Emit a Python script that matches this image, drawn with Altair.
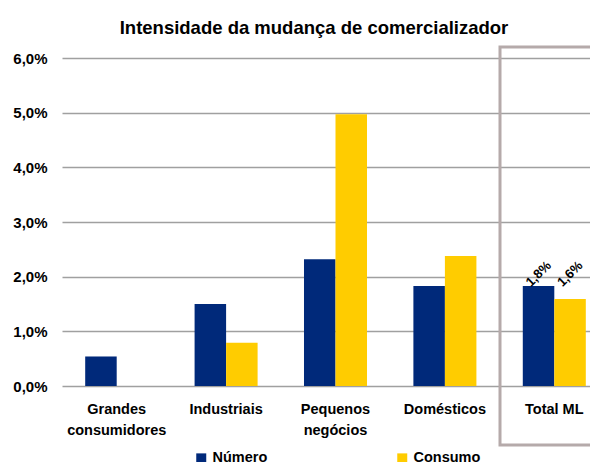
import altair as alt
import pandas as pd

categories = ["Grandes\nconsumidores", "Industriais", "Pequenos\nnegócios", "Domésticos", "Total ML"]
series = ["Número", "Consumo"]
numero = [0.0054, 0.0150, 0.0232, 0.0183, 0.0183]
consumo = [0.0, 0.0079, 0.0497, 0.0238, 0.0159]
labelled_category = "Total ML"
title_text = "Intensidade da mudança de comercializador"
y_ticks = [0, 0.01, 0.02, 0.03, 0.04, 0.05, 0.06]

rows = []
for c, n, k in zip(categories, numero, consumo):
    rows.append({"cat": c, "serie": series[0], "valor": n})
    rows.append({"cat": c, "serie": series[1], "valor": k})
df = pd.DataFrame(rows)

FONT = "Liberation Sans"
NAVY = "#00297a"
YELLOW = "#ffcc00"
FRAME = "#b5aaaa"

x_enc = alt.X(
    "cat:N", sort=categories,
    scale=alt.Scale(range=[0, 547], paddingInner=0.424, paddingOuter=0.212),
    axis=alt.Axis(title=None, labelAngle=0, labelExpr="split(datum.label, '\\n')",
                  domain=False, ticks=False, labelPadding=16, labelFontSize=14.5,
                  labelFontWeight="bold", labelLineHeight=21, labelFont=FONT,
                  labelColor="black"),
)
y_enc = alt.Y(
    "valor:Q", scale=alt.Scale(domain=[0, 0.06], nice=False),
    axis=alt.Axis(title=None, values=y_ticks,
                  labelExpr="replace(format(datum.value, '.1%'), '.', ',')",
                  domain=False, ticks=False, labelPadding=15, grid=True,
                  gridColor="#a0a0a0", gridWidth=1.5, labelFontSize=15,
                  labelFontWeight="bold", labelFont=FONT, labelColor="black"),
)

bars = alt.Chart(df).mark_bar().encode(
    x=x_enc,
    xOffset=alt.XOffset("serie:N", sort=series, scale=alt.Scale(paddingInner=0, paddingOuter=0)),
    y=y_enc,
    color=alt.Color("serie:N", sort=series,
                    scale=alt.Scale(domain=series, range=[NAVY, YELLOW]),
                    legend=alt.Legend(orient="none", legendX=132, legendY=393,
                                      direction="horizontal", title=None,
                                      symbolType="square", symbolSize=100,
                                      symbolStrokeWidth=0, labelFontSize=14.5,
                                      labelFont=FONT, labelFontWeight="bold",
                                      labelColor="black", columnPadding=127,
                                      labelOffset=4, padding=0)),
)

labels = alt.Chart(df).transform_filter(
    alt.datum.cat == labelled_category
).transform_joinaggregate(
    top="max(valor)", groupby=["cat"]
).transform_calculate(
    txt="replace(format(datum.valor, '.1%'), '.', ',')"
).mark_text(angle=315, fontSize=13, font=FONT, fontWeight="bold", color="black",
            align="center", baseline="middle", yOffset=-12).encode(
    x=alt.X("cat:N", sort=categories),
    xOffset=alt.XOffset("serie:N", sort=series),
    y=alt.Y("top:Q"),
    text="txt:N",
)

frame = alt.Chart(pd.DataFrame({"k": [0]})).mark_rect(
    filled=False, stroke=FRAME, strokeWidth=3
).encode(
    x=alt.value(438), x2=alt.value(700), y=alt.value(-11), y2=alt.value(387)
)

chart = alt.layer(bars, labels, frame).properties(
    width=528, height=328,
    title=alt.Title(title_text, fontSize=18.5, font=FONT, fontWeight="bold",
                    anchor="middle", frame="group", dx=-12, offset=8,
                    color="black"),
    autosize=alt.AutoSizeParams(type="none"),
    padding={"left": 54, "top": 50, "right": 0, "bottom": 76},
).configure_view(stroke=None)

chart.save("out.html", embed_options={"renderer": "svg", "actions": False})
